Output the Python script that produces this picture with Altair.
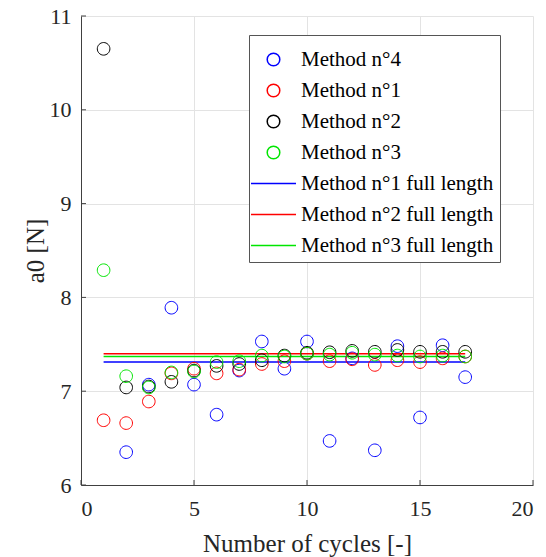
import altair as alt
import pandas as pd

cycles = list(range(1, 18))

# Values (None = not shown)
method4 = [None, 6.35, 7.07, 7.89, 7.07, 6.75, 7.22, 7.53, 7.24, 7.53, 6.47, 7.35, 6.37, 7.48, 6.72, 7.49, 7.15]
method1 = [6.69, 6.66, 6.89, 7.19, 7.24, 7.19, 7.23, 7.29, 7.32, 7.40, 7.32, 7.34, 7.28, 7.33, 7.31, 7.35, 7.37]
method2 = [10.65, 7.04, 7.05, 7.10, 7.22, 7.27, 7.29, 7.33, 7.38, 7.41, 7.415, 7.43, 7.42, 7.44, 7.42, 7.42, 7.42]
method3 = [8.29, 7.16, 7.04, 7.20, 7.21, 7.31, 7.32, 7.38, 7.37, 7.40, 7.39, 7.41, 7.39, 7.38, 7.37, 7.38, 7.37]

full_names = ["Method n°1 full length", "Method n°2 full length", "Method n°3 full length"]
full_values = [7.31, 7.40, 7.37]
full_x = [1, 17]

point_names = ["Method n°4", "Method n°1", "Method n°2", "Method n°3"]
point_series = [method4, method1, method2, method3]

domain = point_names + full_names
colors = ["#0000ff", "#ff0000", "#000000", "#00e600", "#0000ff", "#ff0000", "#00e600"]
# small circle inside a larger symbol box, so circles and long legend lines share one size
CIRCLE = "M0.36,0A0.36,0.36,0,1,1,-0.36,0A0.36,0.36,0,1,1,0.36,0Z"
LINE = "M-1.286,0H1.286"
shapes = [CIRCLE] * 4 + [LINE] * 3
SYM = 1225

x_ticks = [0, 5, 10, 15, 20]
y_ticks = [6, 7, 8, 9, 10, 11]

rows = []
for name, vals in zip(point_names, point_series):
    for c, v in zip(cycles, vals):
        if v is not None:
            rows.append({"series": name, "x": c, "y": v})
pts = pd.DataFrame(rows)

lrows = []
for name, v in zip(full_names, full_values):
    for xx in full_x:
        lrows.append({"series": name, "x": xx, "y": v})
lines = pd.DataFrame(lrows)

FONT = "Liberation Serif"
W, H = 452, 469

xscale = alt.Scale(domain=[0, 20], nice=False)
yscale = alt.Scale(domain=[6, 11], nice=False)

xenc = alt.X("x:Q", scale=xscale,
             axis=alt.Axis(values=x_ticks, format="d", title="Number of cycles [-]", grid=True,
                           ticks=False, labelPadding=13, titlePadding=12,
                           labelFont=FONT, titleFont=FONT, labelFontSize=22, titleFontSize=25))
yenc = alt.Y("y:Q", scale=yscale,
             axis=alt.Axis(values=y_ticks, format="d", title="a0 [N]", grid=True,
                           ticks=False, labelPadding=10, titlePadding=1,
                           labelFont=FONT, titleFont=FONT, labelFontSize=22, titleFontSize=25))

legend = alt.Legend(
    title=None, orient="none", legendX=168, legendY=19,
    labelFont=FONT, labelFontSize=21, labelColor="black", labelLimit=400,
    labelOffset=9, rowPadding=2, padding=6,
    strokeColor="#555555", fillColor="white",
    symbolSize=SYM, symbolStrokeWidth=1.5, symbolFillColor="transparent",
)
color = alt.Color("series:N", scale=alt.Scale(domain=domain, range=colors), legend=legend)
shape = alt.Shape("series:N", scale=alt.Scale(domain=domain, range=shapes), legend=legend)

line_layer = alt.Chart(lines).mark_line(strokeWidth=1.5).encode(
    x=xenc, y=yenc, color=color, detail="series:N"
)
point_layer = alt.Chart(pts).mark_point(filled=False, size=SYM, strokeWidth=1, opacity=1).encode(
    x=xenc, y=yenc, color=color, shape=shape
)

xt = pd.DataFrame({"x": x_ticks})
yt = pd.DataFrame({"y": y_ticks})
xtick_layer = alt.Chart(xt).mark_rule(color="#404040", strokeWidth=1).encode(
    x=alt.X("x:Q", scale=xscale), y=alt.value(H), y2=alt.value(H - 5)
)
ytick_layer = alt.Chart(yt).mark_rule(color="#404040", strokeWidth=1).encode(
    y=alt.Y("y:Q", scale=yscale), x=alt.value(0), x2=alt.value(5)
)

chart = alt.layer(line_layer, point_layer, xtick_layer, ytick_layer).properties(
    width=W, height=H,
    autosize=alt.AutoSizeParams(type="none"),
    padding={"left": 81, "top": 16, "right": 13, "bottom": 72},
).configure(font=FONT).configure_view(stroke=None).configure_axis(
    labelFont=FONT, titleFont=FONT, labelFontSize=22, titleFontSize=25,
    labelColor="#262626", titleColor="#262626", titleFontWeight="normal",
    domainColor="#404040", tickColor="#404040", gridColor="#e3e3e3",
).configure_legend(labelFont=FONT)

chart.save("out.html", embed_options={"renderer": "svg", "actions": False})
